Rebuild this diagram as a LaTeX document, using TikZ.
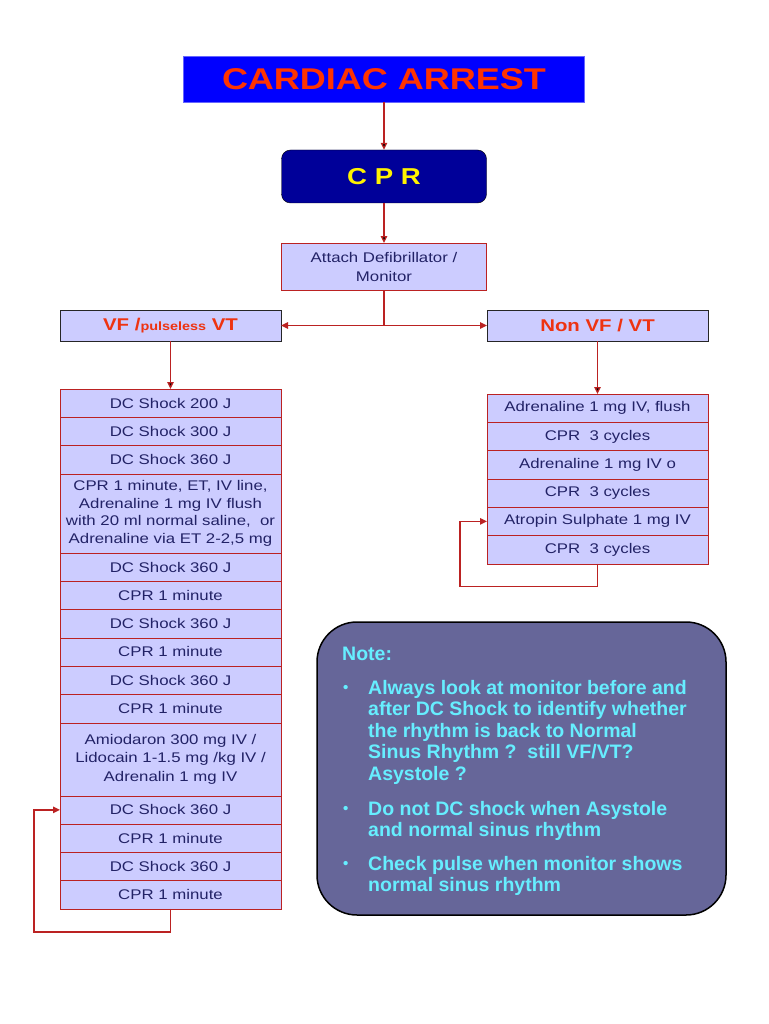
\documentclass[tikz,border=0pt]{standalone}
\usepackage{fontspec}
\setmainfont{Liberation Sans}
\newfontfamily\widefont{Liberation Sans}[FakeStretch=1.2]
\usetikzlibrary{arrows.meta,positioning}
\definecolor{titleblue}{HTML}{0000FF}
\definecolor{titlered}{HTML}{FF3300}
\definecolor{cprblue}{HTML}{000099}
\definecolor{boxfill}{HTML}{CCCCFF}
\definecolor{boxline}{HTML}{BB2222}
\definecolor{textnavy}{HTML}{222266}
\definecolor{alertred}{HTML}{EE3311}
\definecolor{notefill}{HTML}{666699}
\definecolor{notecyan}{HTML}{66EEFF}

\begin{document}
\begin{tikzpicture}[
        x=1pt, y=-1pt,
        >={Triangle[length=7pt,width=6.5pt]},
        node distance=0pt,
        wire/.style={draw=boxline, line width=1.3pt},
        row/.style={draw=boxline, fill=boxfill, text=textnavy, outer sep=0pt, inner sep=1pt,
                    minimum width=221pt, minimum height=28.3pt, text width=215pt, align=center,
                    font=\widefont\fontsize{14}{17.5}\selectfont},
        branch/.style={draw=black!85, fill=boxfill, text=alertred, outer sep=0pt,
                    minimum width=221pt, minimum height=31pt,
                    font=\widefont\bfseries\fontsize{17}{20}\selectfont},
        notetxt/.style={text=notecyan, inner sep=0pt, align=left,
                    font=\bfseries\fontsize{19.5}{21.5}\selectfont},
        notedot/.style={text=notecyan, inner sep=0pt, anchor=base west,
                    font=\bfseries\fontsize{15}{17}\selectfont}
        ]
        \fill[white] (0,0) rectangle (768,1024);

        \node[draw=titleblue!60!white, fill=titleblue, text=titlered, minimum width=401pt,
              minimum height=46pt, font=\widefont\bfseries\fontsize{30}{34}\selectfont]
              (title) at (384,79) {CARDIAC ARREST};
        \node[draw=black, fill=cprblue, rounded corners=9pt, text=yellow, minimum width=205pt,
              minimum height=53pt, font=\widefont\bfseries\fontsize{23}{26}\selectfont]
              (cpr) at (384,176.5) {C P R};
        \node[row, minimum width=205pt, text width=200pt, minimum height=47pt,
              font=\widefont\fontsize{14}{19}\selectfont]
              (attach) at (384,266.5) {Attach Defibrillator /\\ Monitor};

        \node[branch] (vf) at (170.5,325.5) {VF /{\fontsize{12}{14}\selectfont pulseless} VT};
        \node[branch] (nonvf) at (597.5,325.5) {Non VF / VT};

        \node[row, anchor=north] (l1) at (170.5,389) {DC Shock 200 J};
        \node[row, below=of l1] (l2) {DC Shock 300 J};
        \node[row, below=of l2] (l3) {DC Shock 360 J};
        \node[row, below=of l3, minimum height=79pt] (l4) {CPR 1 minute, ET, IV line,\\
              Adrenaline 1 mg IV flush\\ with 20 ml normal saline,\ \ or\\ Adrenaline via ET 2-2,5 mg};
        \node[row, below=of l4] (l5) {DC Shock 360 J};
        \node[row, below=of l5] (l6) {CPR 1 minute};
        \node[row, below=of l6] (l7) {DC Shock 360 J};
        \node[row, below=of l7] (l8) {CPR 1 minute};
        \node[row, below=of l8] (l9) {DC Shock 360 J};
        \node[row, below=of l9] (l10) {CPR 1 minute};
        \node[row, below=of l10, minimum height=73pt, font=\widefont\fontsize{14}{18.5}\selectfont]
              (l11) {Amiodaron 300 mg IV /\\ Lidocain 1-1.5 mg /kg IV /\\ Adrenalin 1 mg IV};
        \node[row, below=of l11] (l12) {DC Shock 360 J};
        \node[row, below=of l12] (l13) {CPR 1 minute};
        \node[row, below=of l13] (l14) {DC Shock 360 J};
        \node[row, below=of l14] (l15) {CPR 1 minute};

        \node[row, anchor=north] (r1) at (597.5,394) {Adrenaline 1 mg IV, flush};
        \node[row, below=of r1] (r2) {CPR\ \ 3 cycles};
        \node[row, below=of r2] (r3) {Adrenaline 1 mg IV o};
        \node[row, below=of r3] (r4) {CPR\ \ 3 cycles};
        \node[row, below=of r4] (r5) {Atropin Sulphate 1 mg IV};
        \node[row, below=of r5] (r6) {CPR\ \ 3 cycles};

        \path[wire, ->]
              (title) edge (cpr)
              (cpr) edge (attach)
              (vf) edge (l1)
              (nonvf) edge (r1);
        \draw[wire] (attach.south) -- (attach.south |- vf.east) coordinate (split);
        \draw[wire, ->] (split) -- (vf.east);
        \draw[wire, ->] (split) -- (nonvf.west);
        \draw[wire, ->] (l15.south) -- ++(0,23) -| ([xshift=-26pt]l12.west) -- (l12.west);
        \draw[wire, ->] (r6.south) -- ++(0,23) -| ([xshift=-27pt]r5.west) -- (r5.west);

        \node[draw=black, line width=1.5pt, fill=notefill, rounded corners=40pt,
              minimum width=409pt, minimum height=293pt] (note) at (521.5,768.5) {};
        \node[notetxt, anchor=base west] (notehead) at (342,660) {Note:};
        \node[notedot] (dot1) at (343,692) {•};
        \node[notetxt, anchor=north west] (item1) at (368,680) {Always look at monitor before and\\
              after DC Shock to identify whether\\ the rhythm is back to Normal\\
              Sinus Rhythm ?\ \ still VF/VT?\\ Asystole ?};
        \node[notedot] (dot2) at (343,813) {•};
        \node[notetxt, anchor=north west] (item2) at (368,801) {Do not DC shock when Asystole\\
              and normal sinus rhythm};
        \node[notedot] (dot3) at (343,868) {•};
        \node[notetxt, anchor=north west] (item3) at (368,856) {Check pulse when monitor shows\\
              normal sinus rhythm};
\end{tikzpicture}
\end{document}
